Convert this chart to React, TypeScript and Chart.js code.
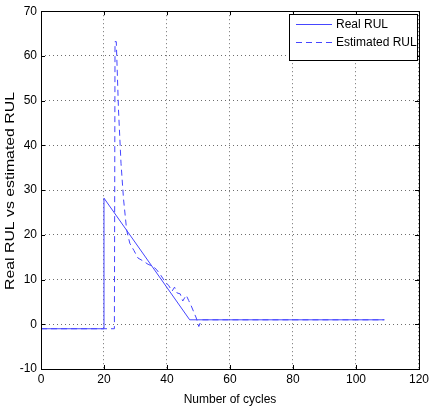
import React, { useEffect, useRef } from "react";
import { Chart, registerables } from "chart.js";

Chart.register(...registerables);

const realX = [0, 19.7, 20, 47.2, 109];
const realY = [-1, -1, 28.2, 1, 1];

const estX = [0, 23.3, 23.5, 23.9, 24.6, 25.4, 26.2, 27.2, 28.2, 29.5, 30.8, 32.3, 34.0, 35.4, 36.6, 38.0, 39.2, 40.6, 41.6, 42.4, 43.2, 44.2, 45.0, 46.1, 46.9, 47.7, 48.7, 49.3, 50.1, 50.6, 51.2, 109];
const estY = [-1, -1, 63.2, 63.2, 48, 36, 28, 21, 18.1, 16.5, 14.8, 14.2, 13.4, 13.0, 12.3, 11.0, 9.7, 8.6, 7.4, 8.3, 7.0, 6.8, 5.2, 6.5, 5.3, 4.1, 2.4, 1.4, -0.5, 0.4, 1, 1];

const xTicks = [0, 20, 40, 60, 80, 100, 120];
const yTicks = [-10, 0, 10, 20, 30, 40, 50, 60, 70];

const seriesNames = ["Real RUL", "Estimated RUL"];
const yTitle = "Real RUL vs estimated RUL";
const lineColor = "#4646ff";
const FONT = "'Liberation Sans', Arial, sans-serif";

const boxPlugin = {
  id: "matlabBox",
  afterDraw(chart: any) {
    const { ctx, chartArea } = chart;
    const { left, right, top, bottom } = chartArea;
    ctx.save();
    ctx.strokeStyle = "#000";
    ctx.lineWidth = 1;
    ctx.setLineDash([]);
    ctx.strokeRect(Math.round(left) + 0.5, Math.round(top) + 0.5, Math.round(right - left), Math.round(bottom - top));
    // inward ticks
    const xs = chart.scales.x;
    const ys = chart.scales.y;
    ctx.beginPath();
    xTicks.forEach((v) => {
      const px = Math.round(xs.getPixelForValue(v)) + 0.5;
      ctx.moveTo(px, bottom);
      ctx.lineTo(px, bottom - 4);
      ctx.moveTo(px, top);
      ctx.lineTo(px, top + 4);
    });
    yTicks.forEach((v) => {
      const py = Math.round(ys.getPixelForValue(v)) + 0.5;
      ctx.moveTo(left, py);
      ctx.lineTo(left + 4, py);
      ctx.moveTo(right, py);
      ctx.lineTo(right - 4, py);
    });
    ctx.stroke();
    // y title (stretched along its direction like the reference)
    ctx.save();
    ctx.font = `12.5px ${FONT}`;
    const w = ctx.measureText(yTitle).width;
    const sx = 198 / w;
    ctx.translate(10, 191);
    ctx.rotate(-Math.PI / 2);
    ctx.scale(sx, 1.05);
    ctx.fillStyle = "#000";
    ctx.textAlign = "center";
    ctx.textBaseline = "middle";
    ctx.fillText(yTitle, 0, 0);
    ctx.restore();
    // legend
    const bx = 289.5, by = 14.5, bw = 128, bh = 46;
    ctx.fillStyle = "#fff";
    ctx.fillRect(bx, by, bw, bh);
    ctx.strokeStyle = "#000";
    ctx.strokeRect(bx, by, bw, bh);
    ctx.strokeStyle = lineColor;
    ctx.beginPath();
    ctx.moveTo(296, 24.5);
    ctx.lineTo(332, 24.5);
    ctx.stroke();
    ctx.setLineDash([6, 4]);
    ctx.beginPath();
    ctx.moveTo(296, 42.5);
    ctx.lineTo(332, 42.5);
    ctx.stroke();
    ctx.setLineDash([]);
    ctx.fillStyle = "#000";
    ctx.font = `12px ${FONT}`;
    ctx.textBaseline = "middle";
    ctx.textAlign = "left";
    ctx.fillText(seriesNames[0], 336, 25);
    ctx.fillText(seriesNames[1], 336, 43);
    ctx.restore();
  },
};

export default function App() {
  const ref = useRef<HTMLCanvasElement>(null);
  useEffect(() => {
    if (!ref.current) return;
    const chart = new Chart(ref.current, {
      type: "scatter",
      data: {
        datasets: [
          {
            label: seriesNames[0],
            data: realX.map((x, i) => ({ x, y: realY[i] })),
            showLine: true,
            borderColor: lineColor,
            borderWidth: 1,
            pointRadius: 0,
            tension: 0,
          },
          {
            label: seriesNames[1],
            data: estX.map((x, i) => ({ x, y: estY[i] })),
            showLine: true,
            borderColor: lineColor,
            borderWidth: 1,
            borderDash: [6, 4],
            pointRadius: 0,
            tension: 0,
          },
        ],
      },
      options: {
        animation: false,
        responsive: false,
        layout: { padding: { top: 7, right: 12, left: 0, bottom: 0 } },
        plugins: { legend: { display: false }, tooltip: { enabled: false } },
        scales: {
          x: {
            type: "linear",
            min: 0,
            max: 120,
            afterBuildTicks: (s: any) => {
              s.ticks = xTicks.map((v) => ({ value: v }));
            },
            afterFit: (s: any) => {
              s.height = 42;
            },
            grid: { color: "#6e6e6e", drawTicks: false, lineWidth: 1 },
            border: { display: false, dash: [1, 3] },
            ticks: { color: "#000", font: { family: FONT, size: 12 }, padding: 3, maxRotation: 0 },
            title: { display: true, text: "Number of cycles", color: "#000", font: { family: FONT, size: 12 }, padding: { top: 0 } },
          },
          y: {
            type: "linear",
            min: -10,
            max: 70,
            afterBuildTicks: (s: any) => {
              s.ticks = yTicks.map((v) => ({ value: v }));
            },
            afterFit: (s: any) => {
              s.width = 41;
            },
            grid: { color: "#6e6e6e", drawTicks: false, lineWidth: 1 },
            border: { display: false, dash: [1, 3] },
            ticks: { color: "#000", font: { family: FONT, size: 12 }, padding: 4 },
            title: { display: false },
          },
        },
      },
      plugins: [boxPlugin],
    } as any);
    return () => chart.destroy();
  }, []);
  return (
    <div style={{ position: "absolute", left: 0, top: 0, width: 432, height: 411, background: "#fff" }}>
      <canvas ref={ref} width={432} height={411} style={{ width: 432, height: 411, display: "block" }} />
    </div>
  );
}
